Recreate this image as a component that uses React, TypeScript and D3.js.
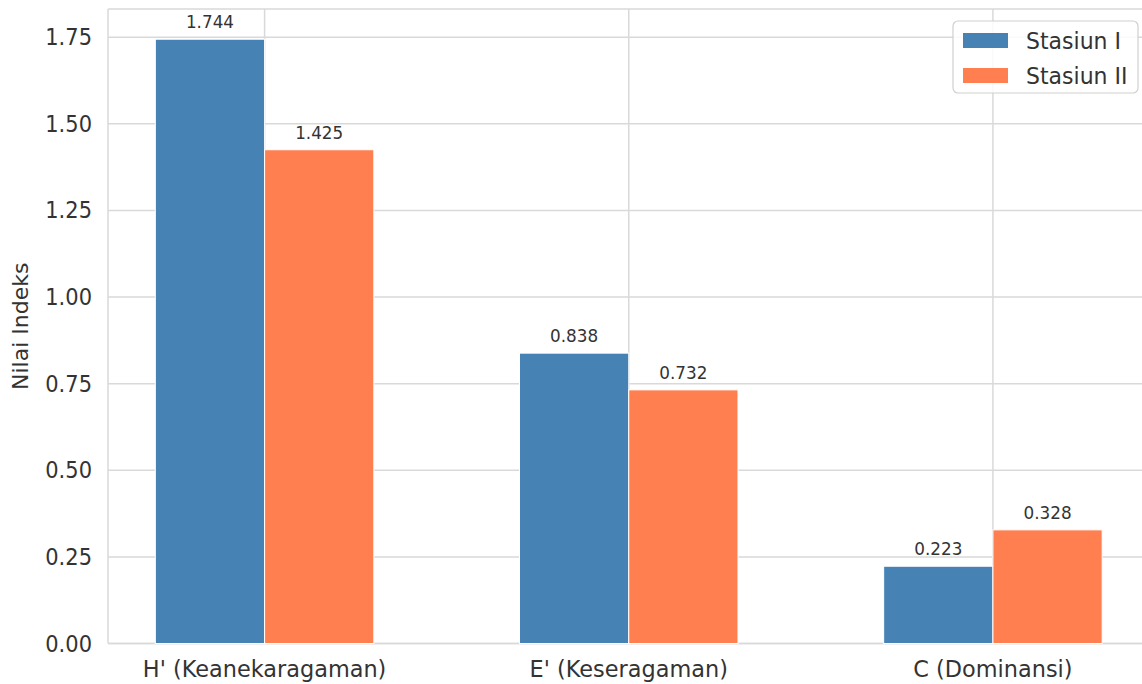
import React from "react";
import * as d3 from "d3";

const categories = ["H' (Keanekaragaman)", "E' (Keseragaman)", "C (Dominansi)"];
const stasiun1 = [1.744, 0.838, 0.223];
const stasiun2 = [1.425, 0.732, 0.328];
const seriesNames = ["Stasiun I", "Stasiun II"];
const seriesColors = ["#4682B4", "#FF7F50"];
const yTicks = [0, 0.25, 0.5, 0.75, 1.0, 1.25, 1.5, 1.75];

const W = 1142;
const H = 684;
const FONT = "DejaVu Sans, Verdana, sans-serif";

export default function App() {
  const barW = 0.3;
  const x = d3.scaleLinear().domain([-0.43, 2.43]).range([108, 1149.5]);
  const yMax = d3.max([...stasiun1, ...stasiun2])! * 1.05;
  const y = d3.scaleLinear().domain([0, yMax]).range([643.5, 9]);
  const series = [stasiun1, stasiun2];
  const left = x.range()[0];
  const right = x.range()[1];
  const top = y.range()[1];
  const bottom = y.range()[0];
  const gridColor = "#d9d9d9";
  const textColor = "#333333";

  return (
    <svg
      width={W}
      height={H}
      viewBox={`0 0 ${W} ${H}`}
      style={{ position: "absolute", left: 0, top: 0, background: "#fff" }}
      fontFamily={FONT}
    >
      <rect x={0} y={0} width={W} height={H} fill="#fff" />
      {yTicks.map((t) => (
        <line key={"gy" + t} x1={left} x2={right} y1={y(t)} y2={y(t)} stroke={gridColor} strokeWidth={1.5} />
      ))}
      {categories.map((c, i) => (
        <line key={"gx" + c} x1={x(i)} x2={x(i)} y1={top} y2={bottom} stroke={gridColor} strokeWidth={1.5} />
      ))}
      <line x1={left} x2={right} y1={top} y2={top} stroke={gridColor} strokeWidth={1.5} />
      <line x1={left} x2={left} y1={top} y2={bottom} stroke={gridColor} strokeWidth={1.5} />
      <line x1={left} x2={right} y1={bottom} y2={bottom} stroke={gridColor} strokeWidth={1.5} />

      {series.map((vals, s) =>
        vals.map((v, i) => {
          const x0 = s === 0 ? x(i - barW) : x(i);
          const x1 = s === 0 ? x(i) : x(i + barW);
          return (
            <g key={`b${s}-${i}`}>
              <rect
                x={x0}
                y={y(v)}
                width={x1 - x0}
                height={y(0) - y(v)}
                fill={seriesColors[s]}
                stroke="#ffffff"
                strokeWidth={1}
              />
              <text
                transform={`translate(${(x0 + x1) / 2}, ${y(v) - 11}) scale(1, 1.06)`}
                textAnchor="middle"
                fontSize={16.8}
                fill={textColor}
              >
                {v.toFixed(3)}
              </text>
            </g>
          );
        })
      )}

      {yTicks.map((t) => (
        <text
          key={"ty" + t}
          transform={`translate(92, ${y(t) + 8}) scale(1, 1.08)`}
          textAnchor="end"
          fontSize={21}
          fill={textColor}
        >
          {t.toFixed(2)}
        </text>
      ))}
      {categories.map((c, i) => (
        <text
          key={"tx" + c}
          transform={`translate(${x(i)}, 677) scale(1, 1.06)`}
          textAnchor="middle"
          fontSize={22.4}
          fill={textColor}
        >
          {c}
        </text>
      ))}
      <text
        transform={`translate(28, ${(top + bottom) / 2}) rotate(-90)`}
        textAnchor="middle"
        fontSize={22}
        fill={textColor}
      >
        Nilai Indeks
      </text>

      <g>
        <rect x={953} y={21} width={185} height={72} rx={5} fill="#ffffff" fillOpacity={0.85} stroke="#d0d0d0" strokeWidth={1.2} />
        {seriesNames.map((n, s) => (
          <g key={"lg" + n}>
            <rect x={963} y={33 + s * 35} width={45} height={15} fill={seriesColors[s]} />
            <text
              transform={`translate(1026, ${48.5 + s * 35}) scale(1, 1.04)`}
              fontSize={22}
              fill={textColor}
            >
              {n}
            </text>
          </g>
        ))}
      </g>
    </svg>
  );
}
